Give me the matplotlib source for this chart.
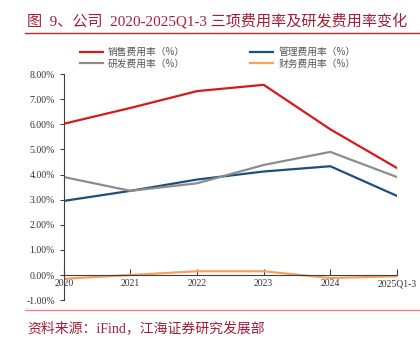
import matplotlib
matplotlib.use("Agg")
import matplotlib.pyplot as plt
from matplotlib.lines import Line2D
from matplotlib.ticker import FuncFormatter

plt.rcParams['font.family'] = ['Liberation Serif', 'Noto Sans CJK SC', 'DejaVu Sans']

categories = ["2020", "2021", "2022", "2023", "2024", "2025Q1-3"]
sales = [6.02, 6.65, 7.32, 7.57, 5.80, 4.26]
admin = [2.95, 3.35, 3.80, 4.12, 4.33, 3.15]
rnd = [3.90, 3.35, 3.65, 4.38, 4.90, 3.90]
finance = [-0.15, 0.00, 0.15, 0.15, -0.12, -0.05]

series_names = ["销售费用率（%）", "管理费用率（%）", "研发费用率（%）", "财务费用率（%）"]
colors = ["#D7191C", "#1F4E79", "#8C8C8C", "#F5A25D"]

fig = plt.figure(figsize=(4.2, 3.38), dpi=100)
ax = fig.add_axes([0.152, 0.112, 0.793, 0.669])

x = list(range(len(categories)))
for vals, c in zip([sales, admin, rnd, finance], colors):
    ax.plot(x, vals, color=c, lw=1.6)

ax.set_xlim(0, len(categories) - 1)
ax.set_ylim(-1, 8)
ax.set_yticks(range(-1, 9))
ax.yaxis.set_major_formatter(FuncFormatter(lambda v, p: f"{v:.2f}%"))
ax.set_xticks(x)
ax.set_xticklabels(categories)

for s in ["top", "right"]:
    ax.spines[s].set_visible(False)
ax.spines["bottom"].set_position(("data", 0))
ax.spines["bottom"].set_color("#404040")
ax.spines["left"].set_color("#404040")
ax.tick_params(axis="x", direction="in", length=4, color="#404040", labelsize=7, pad=3, labelcolor="#333333")
ax.tick_params(axis="y", direction="out", length=3, color="#404040", labelsize=7, labelcolor="#333333")

# legend
handles = [Line2D([0], [0], color=c, lw=1.6) for c in colors]
order = [0, 2, 1, 3]
leg = fig.legend([handles[i] for i in order], [series_names[i] for i in order],
                 ncol=2, loc="center", bbox_to_anchor=(0.518, 0.829), frameon=False,
                 handlelength=2.4, handletextpad=0.5, columnspacing=6.7, labelspacing=0.12,
                 prop={'family': ['Noto Sans CJK SC'], 'size': 7})
for t in leg.get_texts():
    t.set_color("#555555")

title_color = "#A51D36"
fig.text(0.064, 0.94, "图  9、公司  2020-2025Q1-3 三项费用率及研发费用率变化",
         fontsize=10.9, color=title_color, ha="left", va="center",
         family=['Liberation Serif', 'Noto Sans CJK SC'])
fig.add_artist(Line2D([0.06, 1.0], [0.902, 0.902], color="#C0282D", lw=1.0))
fig.add_artist(Line2D([0.06, 1.0], [0.083, 0.083], color="#E8888C", lw=1.0))
fig.text(0.064, 0.03, "资料来源：iFind，江海证券研究发展部", fontsize=10, color=title_color,
         ha="left", va="center", family=['Liberation Serif', 'Noto Sans CJK SC'])

fig.savefig("out.png", dpi=100)
